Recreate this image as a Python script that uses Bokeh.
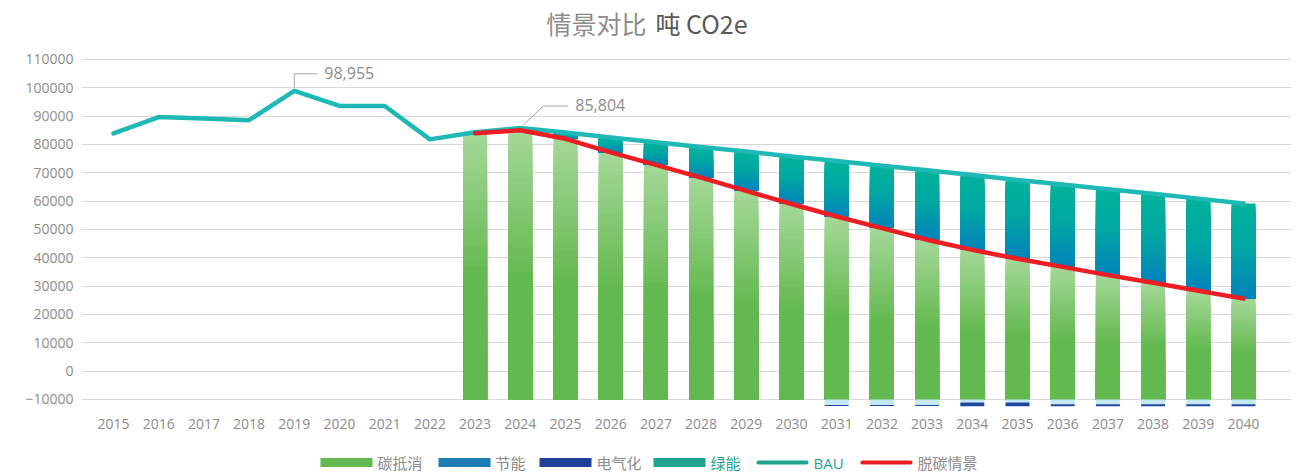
from bokeh.plotting import figure
from bokeh.layouts import column
from bokeh.models import (Range1d, FixedTicker, BasicTickFormatter, Label, ColumnDataSource)
from bokeh.core.properties import value
from bokeh.embed import file_html
from bokeh.resources import INLINE

# ---------------- data ----------------
years = list(range(2015, 2041))
bau = [83900, 89700, 89200, 88600, 98955, 93600, 93600, 81800, 84300, 85804,
       84200, 82500, 80800, 79100, 77500, 75800, 74200, 72500, 70900, 69200,
       67500, 65900, 64200, 62600, 60900, 59200]

scen_years = list(range(2023, 2041))
decarb = [84000, 85000, 82000, 77200, 72800, 68300, 63600, 59000, 54600, 50500,
          46400, 42800, 39700, 36800, 33900, 31200, 28400, 25600]

below_years = list(range(2031, 2041))
saving = [1900, 1900, 1900, 1100, 1100, 1700, 1700, 1700, 1700, 1700]
electrif = [400, 400, 400, 1300, 1300, 700, 700, 700, 700, 700]

BASE = -10000
y_ticks = list(range(-10000, 110001, 10000))
legend_labels = ["碳抵消", "节能", "电气化", "绿能", "BAU", "脱碳情景"]
title_parts = ["情景对比", "吨 CO2e"]

# ---------------- layout ----------------
W = 1315
TH, MH, LH = 45, 395, 35
BL, BR, BT, BB = 81, 24, 7, 33
X0, X1 = 2014.292, 2041.062
Y0, Y1 = -12824, 112470
FW = W - BL - BR
FH = MH - BT - BB
PXX = FW / (X1 - X0)
PXY = FH / (Y1 - Y0)

def dx(px):
    return px / PXX

def dy(px):
    return px / PXY

NUM_FONT = "Open Sans, Noto Sans CJK SC"
CJK_FONT = "Noto Sans CJK SC"
GREY = "#8c8c8c"
TEAL_TXT = "#1fa58f"

def strip(h):
    f = figure(width=W, height=h, output_backend="svg", toolbar_location=None,
               x_range=Range1d(BL, W - BR), y_range=Range1d(0, h),
               min_border_left=BL, min_border_right=BR, min_border_top=0, min_border_bottom=0)
    f.outline_line_color = None
    f.axis.visible = False
    f.grid.grid_line_color = None
    f.background_fill_color = "white"
    f.border_fill_color = "white"
    return f

# ---------------- title strip ----------------
t = strip(TH)
t.text(x=[646], y=[TH - 22], text=[title_parts[0]], text_align="right", text_baseline="middle",
       text_font=value(CJK_FONT), text_font_size="25px", text_color="#8c8c8c")
t.text(x=[655], y=[TH - 22], text=[title_parts[1]], text_align="left", text_baseline="middle",
       text_font=value(CJK_FONT), text_font_size="25px", text_color="#595959")

# ---------------- main plot ----------------
p = figure(width=W, height=MH, output_backend="svg", toolbar_location=None,
           x_range=Range1d(X0, X1), y_range=Range1d(Y0, Y1),
           min_border_left=BL, min_border_right=BR, min_border_top=BT,
           min_border_bottom=BB)
p.outline_line_color = None
p.background_fill_color = "white"
p.border_fill_color = "white"

p.xgrid.grid_line_color = None
p.ygrid.grid_line_color = "#d9d9d9"
p.ygrid.grid_line_width = 1

p.yaxis.ticker = FixedTicker(ticks=y_ticks)
p.yaxis.formatter = BasicTickFormatter(use_scientific=False)
p.xaxis.ticker = FixedTicker(ticks=years)
p.xaxis.formatter = BasicTickFormatter(use_scientific=False)
for ax in (p.xaxis, p.yaxis):
    ax.axis_line_color = None
    ax.major_tick_line_color = None
    ax.minor_tick_line_color = None
    ax.major_tick_out = 0
    ax.major_tick_in = 0
    ax.major_label_text_font = NUM_FONT
    ax.major_label_text_font_size = "14px"
    ax.major_label_text_color = GREY
p.yaxis.major_label_standoff = 8
p.xaxis.major_label_standoff = 11

def lerp(c1, c2, tt):
    return "#%02x%02x%02x" % tuple(int(round(a + (b - a) * tt)) for a, b in zip(c1, c2))

G_LIGHT = (165, 216, 152)
G_DARK = (99, 185, 79)

def green_grad(tt):
    if tt < 0.55:
        return lerp(G_LIGHT, G_DARK, tt / 0.55)
    return lerp(G_DARK, G_DARK, 0)

T_STOPS = [(0.0, (0, 178, 154)), (0.45, (0, 168, 162)), (1.0, (0, 130, 188))]

def teal_grad(tt):
    for (t0, c0), (t1, c1) in zip(T_STOPS[:-1], T_STOPS[1:]):
        if tt <= t1:
            return lerp(c0, c1, (tt - t0) / (t1 - t0))
    return lerp(T_STOPS[-1][1], T_STOPS[-1][1], 0)

N = 40
BW = 0.53

gx, gb, gt, gc = [], [], [], []
tx, tb, tt_, tc = [], [], [], []
for k in range(N):
    frac = (N - k) / N
    tmid = (k + 0.5) / N
    for yr, r in zip(scen_years, decarb):
        b = bau[years.index(yr)]
        gx.append(yr); gb.append(BASE); gt.append(BASE + (r - BASE) * frac); gc.append(green_grad(tmid))
        if b > r:
            tx.append(yr); tb.append(r); tt_.append(r + (b - r) * frac); tc.append(teal_grad(tmid))

p.vbar(x="x", bottom="b", top="t", width=BW, fill_color="c", line_color=None,
       source=ColumnDataSource(dict(x=gx, b=gb, t=gt, c=gc)))
p.vbar(x="x", bottom="b", top="t", width=BW, fill_color="c", line_color=None,
       source=ColumnDataSource(dict(x=tx, b=tb, t=tt_, c=tc)))

lb_top = [BASE] * len(below_years)
lb_bot = [BASE - s for s in saving]
db_bot = [BASE - s - e for s, e in zip(saving, electrif)]
p.vbar(x=below_years, bottom=lb_bot, top=lb_top, width=BW, fill_color="#c4e8f6", line_color=None)
p.vbar(x=below_years, bottom=db_bot, top=lb_bot, width=BW, fill_color="#1e469d", line_color=None)

p.line(years, bau, line_color="#1eb8b5", line_width=4.5, line_join="round", line_cap="round")
p.line(scen_years, decarb, line_color="#ee1d23", line_width=4.5, line_join="round", line_cap="round")

def callout(yr, val, pts, tx_off, ty_off):
    xs = [yr + dx(a) for a, _ in pts]
    ys = [val + dy(b) for _, b in pts]
    p.line(xs, ys, line_color="#a6a6a6", line_width=1)
    p.add_layout(Label(x=yr, y=val, x_offset=tx_off, y_offset=ty_off, text=f"{val:,}",
                       text_baseline="middle", text_align="left", text_font=NUM_FONT,
                       text_font_size="16px", text_color=GREY))

i_peak = bau.index(max(bau))
callout(years[i_peak], bau[i_peak], [(0, 3), (0, 17), (23, 17)], 30, 18)
i24 = years.index(2024)
callout(years[i24], bau[i24], [(3, 3), (23, 22), (48, 22)], 55, 23)

# ---------------- legend strip ----------------
lg = strip(LH)
LY = LH - 22
leg_specs = [
    (legend_labels[0], "#63b94f", "box", GREY, 320, CJK_FONT),
    (legend_labels[1], "#1c7db5", "box", GREY, 438, CJK_FONT),
    (legend_labels[2], "#1f3f98", "box", GREY, 539, CJK_FONT),
    (legend_labels[3], "#1fa58f", "box", TEAL_TXT, 653, CJK_FONT),
    (legend_labels[4], "#1fa58f", "line", TEAL_TXT, 756, NUM_FONT),
    (legend_labels[5], "#ee1d23", "line", GREY, 860, CJK_FONT),
]
SW = 52
for lab, col, kind, tcol, lx, fnt in leg_specs:
    if kind == "box":
        lg.rect(x=[lx + SW / 2], y=[LY], width=SW, height=9, fill_color=col, line_color=None)
    else:
        lg.line(x=[lx + 2, lx + SW - 2], y=[LY, LY], line_color=col, line_width=4, line_cap="round")
    lg.text(x=[lx + SW + 5], y=[LY], text=[lab], text_align="left", text_baseline="middle",
            text_font=value(fnt), text_font_size="15px", text_color=tcol)

layout = column(t, p, lg, spacing=0)
open("out.html", "w").write(file_html(layout, INLINE))
